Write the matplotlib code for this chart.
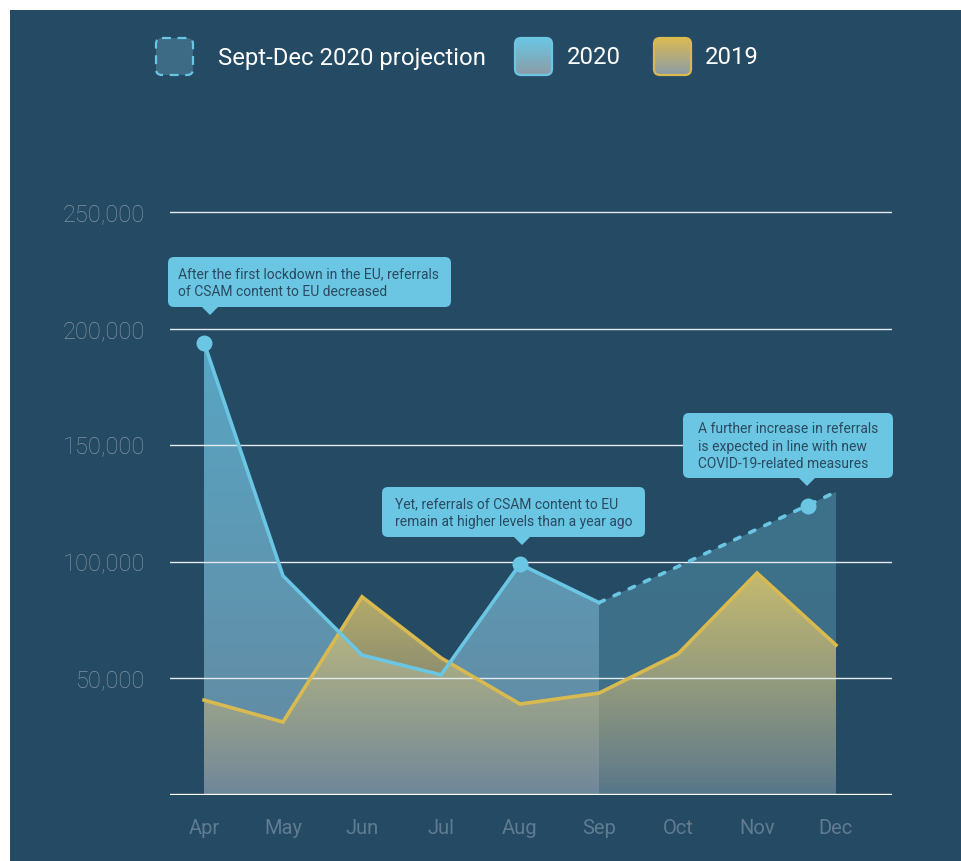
import numpy as np
import matplotlib
matplotlib.use("Agg")
import matplotlib.pyplot as plt
from matplotlib.patches import FancyBboxPatch, Polygon, Rectangle

plt.rcParams['font.family'] = ['Roboto', 'DejaVu Sans']

# ---------------- data ----------------
months = ["Apr", "May", "Jun", "Jul", "Aug", "Sep", "Oct", "Nov", "Dec"]
values_2020 = [194000, 94000, 60000, 51500, 99000, 82500]          # Apr-Sep
projection_months = ["Sep", "Oct", "Nov", "Dec"]
projection_2020 = [82500, 98000, 114000, 130000]                   # Sep-Dec
values_2019 = [40700, 31300, 85000, 58800, 39000, 43700, 60500, 95200, 64300]
y_ticks = [50000, 100000, 150000, 200000, 250000]
y_tick_labels = ["50,000", "100,000", "150,000", "200,000", "250,000"]
ann_x = [0, 4, 7.65]
ann_y = [194000, 99000, 124000]
ann_texts = [
    "After the first lockdown in the EU, referrals\nof CSAM content to EU decreased",
    "Yet, referrals of CSAM content to EU\nremain at higher levels than a year ago",
    "A further increase in referrals\nis expected in line with new\nCOVID-19-related measures",
]
legend_labels = ["Sept-Dec 2020 projection", "2020", "2019"]

# ---------------- style ----------------
BG = "#254a63"
BLUE = "#6ac6e3"
YELLOW = "#d8ba50"
W, H = 962, 861

fig = plt.figure(figsize=(W / 100, H / 100), dpi=100, facecolor="white")
fig.patches.append(Rectangle((10 / W, 0), 1, 1 - 10 / H, transform=fig.transFigure,
                             facecolor=BG, edgecolor="none", zorder=-10))

ax = fig.add_axes([170 / W, (H - 795) / H, 722 / W, 629.6 / H])
ax.set_facecolor("none")
for s in ax.spines.values():
    s.set_visible(False)

x_all = np.arange(len(months))
x20 = np.arange(len(values_2020))
xproj = np.array([months.index(m) for m in projection_months])


def c(r, g, b, a=1.0):
    return np.array([r / 255, g / 255, b / 255, a])


def grad_fill(x, y, top, bottom, z, gamma=1.0):
    x = np.asarray(x, float)
    y = np.asarray(y, float)
    poly = ax.fill_between(x, y, 0, facecolor="none", edgecolor="none")
    n = 256
    f = (np.linspace(0, 1, n) ** gamma)[:, None]
    col = bottom[None, :] + (top - bottom)[None, :] * f
    img = np.repeat(col[:, None, :], 2, axis=1)
    im = ax.imshow(img, extent=[x.min(), x.max(), 0, y.max()], origin="lower",
                   aspect="auto", zorder=z, interpolation="bilinear")
    im.set_clip_path(poly.get_paths()[0], ax.transData)
    return im


# 2020 fill (Apr-Sep)
grad_fill(x20, values_2020, c(88, 166, 196), c(100, 136, 160), z=1)
# projection fill (Sep-Dec)
grad_fill(xproj, projection_2020, c(61, 113, 138), c(62, 110, 135), z=1)
# 2019 fill
grad_fill(x_all, values_2019, c(232, 205, 105, 0.8), c(125, 128, 148, 0.32), z=2, gamma=0.6)

# grid lines
for yv in y_ticks:
    ax.axhline(yv, color="#e3e9ed", lw=1.0, zorder=3)
ax.axhline(0, color="white", lw=2.4, zorder=3)

# lines
ax.plot(x_all, values_2019, color=YELLOW, lw=2.6, zorder=4, solid_joinstyle="miter")
ax.plot(x20, values_2020, color=BLUE, lw=2.6, zorder=5, solid_joinstyle="miter")
ax.plot(xproj, projection_2020, color=BLUE, lw=2.6, zorder=5,
        dashes=(1.6, 3.0), dash_capstyle="round")
ax.plot(ann_x, ann_y, "o", color=BLUE, ms=11.5, zorder=6, mec="none")

ax.set_xlim(-34 / 79, (892 - 204) / 79)
ax.set_ylim(0, 270000)
ax.set_yticks(y_ticks)
ax.set_yticklabels(y_tick_labels, fontsize=17, color="#7f95a5", fontweight="light")
ax.set_xticks(x_all)
ax.set_xticklabels(months, fontsize=14.5, color="#5f7c91")
ax.tick_params(axis="y", length=0, pad=18)
ax.tick_params(axis="x", length=0, pad=17)

# ---------------- overlay (legend + callouts), pixel coordinates ----------------
ov = fig.add_axes([0, 0, 1, 1], zorder=10)
ov.set_xlim(0, W)
ov.set_ylim(H, 0)
ov.axis("off")
ov.patch.set_alpha(0)

TEXT_DARK = "#2b4a60"


def callout(x0, y0, x1, y1, tipx, text, tx):
    box = FancyBboxPatch((x0, y0), x1 - x0, y1 - y0,
                         boxstyle="round,pad=0,rounding_size=6",
                         facecolor=BLUE, edgecolor="none")
    ov.add_patch(box)
    ov.add_patch(Polygon([(tipx - 9, y1 - 1), (tipx + 9, y1 - 1), (tipx, y1 + 8)],
                         closed=True, facecolor=BLUE, edgecolor="none"))
    ov.text(tx, (y0 + y1) / 2 + 1, text, fontsize=10.0, color=TEXT_DARK, ha="left",
            va="center", linespacing=1.33)


callout(168, 257, 451, 307, 210, ann_texts[0], 178)
callout(382, 487, 645, 537, 522, ann_texts[1], 395)
callout(683, 413, 893, 478, 807, ann_texts[2], 698)


def swatch(x0, y0, size, top, bottom, edge, dashed=False):
    box = FancyBboxPatch((x0, y0), size, size, boxstyle="round,pad=0,rounding_size=6",
                         facecolor="none", edgecolor="none")
    ov.add_patch(box)
    n = 64
    f = np.linspace(0, 1, n)[:, None]
    col = top[None, :] + (bottom - top)[None, :] * f
    img = np.repeat(col[:, None, :], 2, axis=1)
    im = ov.imshow(img, extent=[x0, x0 + size, y0 + size, y0], origin="upper",
                   aspect="auto", interpolation="bilinear", zorder=1)
    im.set_clip_path(box)
    border = FancyBboxPatch((x0, y0), size, size, boxstyle="round,pad=0,rounding_size=6",
                            facecolor="none", edgecolor=edge, lw=1.6, zorder=2,
                            linestyle=(0, (4, 3)) if dashed else "-")
    ov.add_patch(border)


swatch(156, 38, 37, c(61, 108, 135), c(61, 106, 133), BLUE, dashed=True)
swatch(515, 38, 37, c(106, 198, 227), c(140, 156, 166), BLUE)
swatch(654, 38, 37, c(217, 186, 84), c(140, 156, 166), YELLOW)
ov.text(218, 58, legend_labels[0], fontsize=17.2, color="white", va="center", ha="left")
ov.text(567, 58, legend_labels[1], fontsize=17.2, color="white", va="center", ha="left")
ov.text(705, 58, legend_labels[2], fontsize=17.2, color="white", va="center", ha="left")

ov.set_xlim(0, W)
ov.set_ylim(H, 0)

fig.savefig("out.png", dpi=100, facecolor="white")
